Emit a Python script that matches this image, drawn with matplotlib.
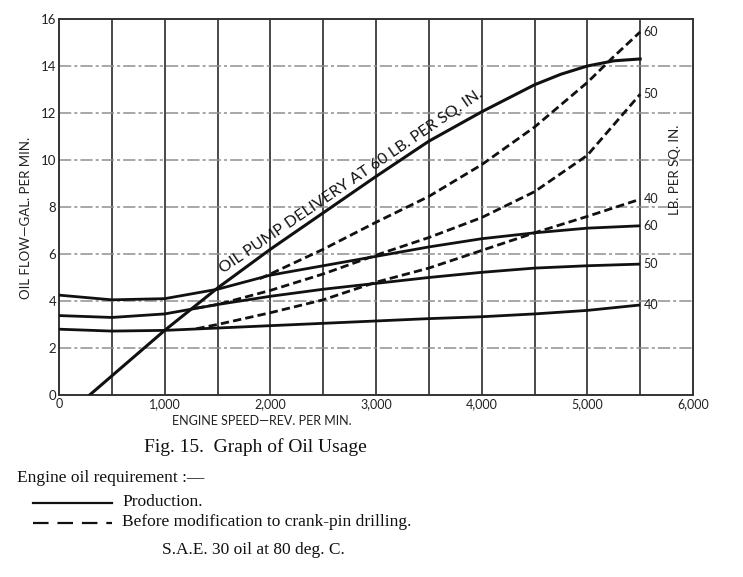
import matplotlib
matplotlib.use("Agg")
import matplotlib.pyplot as plt
import numpy as np

# ---- data ----
rpm_prod = [0, 500, 1000, 1500, 2000, 2500, 3000, 3500, 4000, 4500, 5000, 5500]
prod_60 = [4.25, 4.05, 4.1, 4.5, 5.1, 5.5, 5.9, 6.3, 6.65, 6.9, 7.1, 7.2]
prod_50 = [3.38, 3.3, 3.45, 3.85, 4.2, 4.5, 4.75, 5.0, 5.22, 5.4, 5.5, 5.57]
prod_40 = [2.8, 2.72, 2.75, 2.85, 2.95, 3.05, 3.15, 3.25, 3.33, 3.45, 3.6, 3.83]

rpm_pre60 = [1900, 2000, 2500, 3000, 3500, 4000, 4500, 5000, 5250, 5500]
pre_60 = [4.95, 5.15, 6.2, 7.35, 8.45, 9.8, 11.4, 13.3, 14.4, 15.45]
rpm_pre50 = [1300, 1500, 2000, 2500, 3000, 3500, 4000, 4500, 5000, 5250, 5500]
pre_50 = [3.7, 3.85, 4.45, 5.15, 5.95, 6.7, 7.55, 8.65, 10.2, 11.5, 12.8]
rpm_pre40 = [1300, 1500, 2000, 2500, 3000, 3500, 4000, 4500, 5000, 5500]
pre_40 = [2.82, 3.0, 3.5, 4.05, 4.8, 5.4, 6.15, 6.9, 7.6, 8.33]

rpm_pump = [290, 1000, 1500, 2000, 2500, 3000, 3500, 4000, 4500, 4750, 5000, 5250, 5500]
pump = [0, 2.75, 4.55, 6.2, 7.75, 9.3, 10.8, 12.05, 13.2, 13.65, 14.0, 14.22, 14.3]

x_ticks = [0, 1000, 2000, 3000, 4000, 5000, 6000]
x_ticklabels = ["0", "1,000", "2,000", "3,000", "4,000", "5,000", "6,000"]
y_ticks = [0, 2, 4, 6, 8, 10, 12, 14, 16]
end_labels_pre = ["60", "50", "40"]
end_labels_prod = ["60", "50", "40"]

W, H = 743, 577
fig = plt.figure(figsize=(W / 100, H / 100), dpi=100)
ax = fig.add_axes([59 / W, 1 - 395 / H, 634 / W, 376 / H])

sans = "Lato"
serif = "Liberation Serif"

ax.set_xlim(0, 6000)
ax.set_ylim(0, 16)

# grid
for xv in np.arange(500, 6000, 500):
    ax.axvline(xv, color="#3a3a3a", lw=1.3, zorder=1)
for yv in np.arange(2, 16, 2):
    ax.axhline(yv, color="#8f8f8f", lw=1.1, ls=(0, (8, 2, 2, 2)), zorder=1)

for s in ax.spines.values():
    s.set_color("#333333")
    s.set_linewidth(1.4)

lw = 2.0
col = "#111111"
for y in (prod_60, prod_50, prod_40):
    ax.plot(rpm_prod, y, color=col, lw=lw, solid_capstyle="butt", zorder=3)
for r, y in ((rpm_pre60, pre_60), (rpm_pre50, pre_50), (rpm_pre40, pre_40)):
    ax.plot(r, y, color=col, lw=lw, ls=(0, (3.0, 1.5)), zorder=3)
ax.plot(rpm_pump, pump, color=col, lw=2.2, zorder=3)

# end labels
for y, lab in zip((pre_60, pre_50, pre_40), end_labels_pre):
    ax.text(5530, y[-1], lab, fontsize=9, family=sans, va="center", ha="left", color="#222222")
for y, lab in zip((prod_60, prod_50, prod_40), end_labels_prod):
    ax.text(5530, y[-1], lab, fontsize=9, family=sans, va="center", ha="left", color="#222222")

ax.text(5830, 9.6, "LB. PER SQ. IN.", rotation=90, fontsize=9.5, family=sans,
        va="center", ha="center", color="#222222")

# pump label along line
p1 = ax.transData.transform((2000, 6.2))
p2 = ax.transData.transform((3500, 10.8))
ang = np.degrees(np.arctan2(p2[1] - p1[1], p2[0] - p1[0]))
off = 7.0
lx = 2820
ly = np.interp(lx, rpm_pump, pump)
ax.annotate("OIL PUMP DELIVERY AT 60 LB. PER SQ. IN.", xy=(lx, ly),
            xytext=(-off * np.sin(np.radians(ang)), off * np.cos(np.radians(ang))),
            textcoords="offset points", rotation=ang, rotation_mode="anchor",
            fontsize=11.5, family=sans, ha="center", va="center", color="#111111",
            zorder=4)

ax.set_xticks(x_ticks)
ax.set_xticklabels(x_ticklabels, fontsize=9, family=sans)
ax.set_yticks(y_ticks)
ax.set_yticklabels([str(v) for v in y_ticks], fontsize=9.5, family=sans)
ax.tick_params(length=0, pad=2, colors="#222222")

ax.set_xlabel("ENGINE SPEED\u2014REV. PER MIN.", fontsize=9, family=sans, color="#222222")
ax.xaxis.set_label_coords(0.32, -0.052)
ax.set_ylabel("OIL FLOW\u2014GAL. PER MIN.", fontsize=9.5, family=sans, color="#222222")
ax.yaxis.set_label_coords(-0.042, 0.47)

# captions
fig.text(255 / W, 1 - 447 / H, "Fig. 15.  Graph of Oil Usage", fontsize=14, family=serif,
         ha="center", va="center", color="#111111")
fig.text(17 / W, 1 - 478 / H, "Engine oil requirement :\u2014", fontsize=12.5, family=serif,
         ha="left", va="center", color="#111111")
fig.add_artist(plt.Line2D([33 / W, 112 / W], [1 - 503 / H] * 2, color="#111111", lw=1.6))
fig.text(122 / W, 1 - 502 / H, "Production.", fontsize=12.5, family=serif,
         ha="left", va="center", color="#111111")
fig.add_artist(plt.Line2D([33 / W, 112 / W], [1 - 523 / H] * 2, color="#111111", lw=1.6,
                          ls=(0, (7, 4))))
fig.text(122 / W, 1 - 522 / H, "Before modification to crank-pin drilling.", fontsize=12.5,
         family=serif, ha="left", va="center", color="#111111")
fig.text(253 / W, 1 - 550 / H, "S.A.E. 30 oil at 80 deg. C.", fontsize=12.5, family=serif,
         ha="center", va="center", color="#111111")

fig.savefig("out.png", dpi=100)
